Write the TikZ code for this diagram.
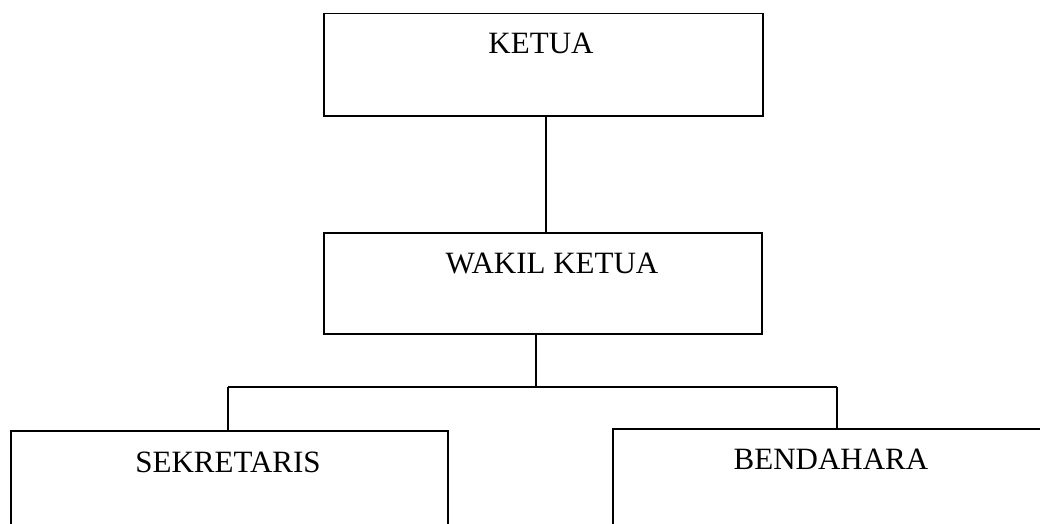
\documentclass[tikz,border=0pt]{standalone}
\usepackage{fontspec}
\setmainfont{Liberation Serif}
\begin{document}
\begin{tikzpicture}[x=1pt,y=-1pt,
  box/.style={draw, line width=1.5pt, rectangle, anchor=north west, inner sep=0pt},
  lbl/.style={anchor=base, inner sep=0pt, font=\fontsize{31}{36}\selectfont},
  conn/.style={line width=1.5pt}]
\useasboundingbox (0,0) rectangle (1040,524);
\clip (0,0) rectangle (1040,524);
\node[box, minimum width=439pt, minimum height=102pt] (ketua) at (323,13) {};
\node[box, minimum width=438pt, minimum height=101pt] (wakil) at (323,232) {};
\node[box, minimum width=437pt, minimum height=140pt] (sek) at (10,430) {};
\node[box, minimum width=460pt, minimum height=140pt] (ben) at (612,428) {};
\node[lbl] (tketua) at (541,54) {KETUA};
\node[lbl] (twakil) at (552,273) {WAKIL KETUA};
\node[lbl] (tsek) at (228,472) {SEKRETARIS};
\node[lbl] (tben) at (831,469) {BENDAHARA};
\coordinate (k1) at (546,0);
\coordinate (w1) at (536,0);
\coordinate (barL) at (228,387);
\coordinate (barR) at (837,387);
\coordinate (barM) at (536,387);
\draw[conn] (ketua.south -| k1) -- (wakil.north -| k1);
\draw[conn] (wakil.south -| w1) -- (barM);
\draw[conn] (barL) -- (barR);
\draw[conn] (barL) -- (sek.north -| barL);
\draw[conn] (barR) -- (ben.north -| barR);
\end{tikzpicture}
\end{document}
